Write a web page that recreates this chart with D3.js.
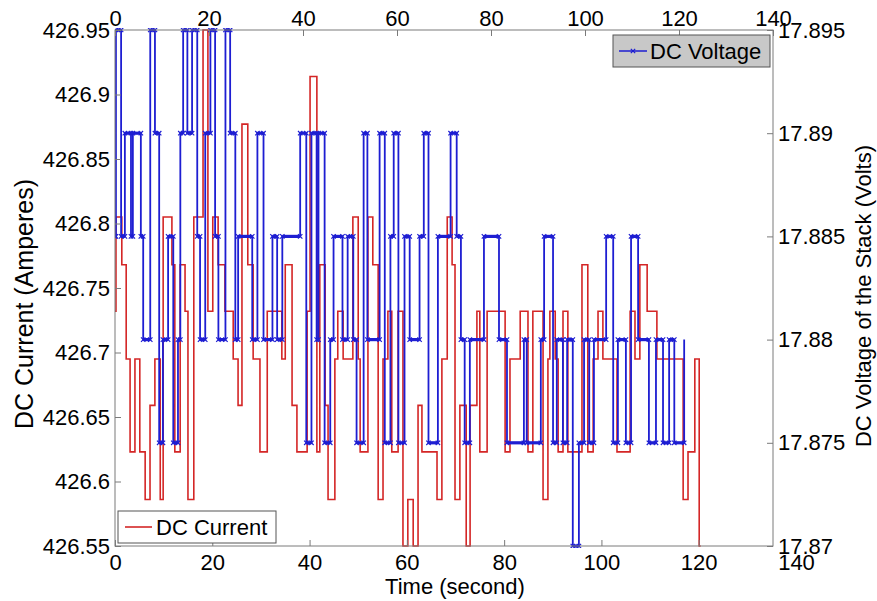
<!DOCTYPE html>
<html><head><meta charset="utf-8">
<script src="https://cdn.jsdelivr.net/npm/d3@7"></script>
<style>
body{margin:0;background:#fff;}
svg text{font-family:"Liberation Sans",Arial,sans-serif;}
</style></head>
<body><svg id="c" width="877" height="601"></svg>
<script>
// ---------- data ----------
const xTickValues = [0,20,40,60,80,100,120,140];
const xTickLabels = ["0","20","40","60","80","100","120","140"];
const currentTickValues = [426.55,426.6,426.65,426.7,426.75,426.8,426.85,426.9,426.95];
const currentTickLabels = ["426.55","426.6","426.65","426.7","426.75","426.8","426.85","426.9","426.95"];
const voltageTickValues = [17.87,17.875,17.88,17.885,17.89,17.895];
const voltageTickLabels = ["17.87","17.875","17.88","17.885","17.89","17.895"];

const currentTime = [0,0.2,1.4,2.3,3.1,4.1,5.1,6.2,7.2,8.2,9.3,9.9,11.7,12.3,13.4,14.4,15.0,16.2,18.1,19.1,20.1,21.2,22.6,24.3,25.3,26.1,27.3,28.4,29.8,31.3,34.3,35.0,36.4,37.4,39.5,40.1,41.5,42.1,43.2,43.8,45.2,45.8,46.9,48.9,50.0,50.4,52.0,53.0,54.1,55.1,56.1,56.9,58.2,59.2,60.2,61.3,62.3,63.1,66.2,67.2,68.3,69.3,69.9,70.9,72.2,73.0,74.4,75.0,76.5,80.2,81.2,83.3,84.9,85.9,88.0,89.0,89.4,90.5,91.1,92.1,93.1,96.0,97.2,98.3,99.3,100.3,103.2,105.9,106.9,107.9,109.4,111.4,116.8,117.8,119.2,120.1,120.4];
const currentValue = [426.732,426.805,426.768,426.695,426.623,426.695,426.623,426.586,426.659,426.695,426.586,426.805,426.768,426.623,426.768,426.732,426.586,426.805,426.95,426.732,426.805,426.768,426.732,426.695,426.659,426.877,426.768,426.695,426.623,426.732,426.695,426.768,426.659,426.623,426.732,426.914,426.623,426.768,426.659,426.586,426.695,426.732,426.695,426.805,426.695,426.623,426.805,426.768,426.586,426.695,426.732,426.623,426.732,426.55,426.586,426.55,426.659,426.623,426.586,426.695,426.805,426.768,426.586,426.659,426.55,426.659,426.732,426.623,426.732,426.623,426.695,426.732,426.623,426.732,426.586,426.695,426.732,426.695,426.623,426.732,426.623,426.768,426.623,426.695,426.732,426.695,426.623,426.732,426.695,426.768,426.732,426.695,426.586,426.623,426.695,426.55,426.55];

const voltageTime = [0,0.2,1.3,2.1,3.4,3.8,5.5,6.0,7.5,8.5,9.4,10.2,11.3,12.4,13.4,13.9,14.5,15.4,16.4,17.5,18.1,19.2,20.3,21.3,22.0,23.5,24.5,25.6,26.2,29.2,30.3,31.6,33.5,34.5,35.6,39.4,40.7,41.8,42.9,43.3,44.6,45.8,46.5,48.4,49.5,50.7,51.4,52.9,53.7,56.3,57.4,58.6,59.3,60.3,61.6,62.7,64.8,65.7,66.7,68.7,71.4,72.7,73.6,74.4,75.5,78.5,81.7,83.4,87.0,87.6,90.6,91.3,93.2,94.0,95.3,96.2,97.4,98.7,99.8,100.9,101.9,104.5,106.0,107.0,108.7,109.8,111.3,113.6,115.1,116.6,117.9,119.0,121.1];
const voltageValue = [17.885,17.895,17.885,17.89,17.885,17.89,17.885,17.88,17.895,17.89,17.875,17.88,17.885,17.875,17.88,17.89,17.895,17.89,17.895,17.885,17.88,17.89,17.895,17.885,17.88,17.895,17.89,17.88,17.885,17.88,17.89,17.88,17.885,17.88,17.885,17.89,17.875,17.89,17.88,17.89,17.875,17.88,17.885,17.88,17.885,17.88,17.875,17.89,17.88,17.89,17.875,17.885,17.89,17.875,17.885,17.88,17.885,17.89,17.875,17.885,17.89,17.885,17.88,17.875,17.88,17.885,17.88,17.875,17.88,17.875,17.88,17.885,17.875,17.88,17.875,17.88,17.87,17.875,17.88,17.875,17.88,17.885,17.875,17.88,17.875,17.885,17.88,17.875,17.88,17.875,17.88,17.875,17.88];

const seriesNames = ["DC Voltage","DC Current"];

// ---------- layout ----------
const L = 115, T = 30, B = 546, Rtop = 773, Rbottom = 796;
const svg = d3.select("#c");
const xBottom = d3.scaleLinear().domain([0,140]).range([L,Rbottom]);
const xTop = d3.scaleLinear().domain([0,140]).range([L,Rtop]);
const yLeft = d3.scaleLinear().domain([426.55,426.95]).range([B,T]);
const yRight = d3.scaleLinear().domain([17.87,17.895]).range([B,T]);

const axisColor = "#7a7a7a";
const fontSize = 22;

svg.append("defs").append("clipPath").attr("id","clip")
  .append("rect").attr("x",L).attr("y",T-2).attr("width",Rtop-L).attr("height",B-T+4);

// series
const red = "#d42626", blue = "#1e1ed2";
const curData = currentTime.map((t,i)=>[t,currentValue[i]]);
const volData = voltageTime.map((t,i)=>[t,voltageValue[i]]);

const g = svg.append("g").attr("clip-path","url(#clip)");
g.append("path").datum(curData)
  .attr("d", d3.line().x(d=>xBottom(d[0])).y(d=>yLeft(d[1])).curve(d3.curveStepAfter))
  .attr("fill","none").attr("stroke",red).attr("stroke-width",1.6);

g.append("path").datum(volData)
  .attr("d", d3.line().x(d=>xTop(d[0])).y(d=>yRight(d[1])).curve(d3.curveStepAfter))
  .attr("fill","none").attr("stroke",blue).attr("stroke-width",1.8);

// thicker plateaus
const plateaus = volData.slice(0,-1).map((d,i)=>({t0:d[0],t1:volData[i+1][0],v:d[1]}));
g.selectAll("line.pl").data(plateaus).enter().append("line")
  .attr("x1",d=>xTop(d.t0)).attr("x2",d=>xTop(d.t1))
  .attr("y1",d=>yRight(d.v)).attr("y2",d=>yRight(d.v))
  .attr("stroke",blue).attr("stroke-width",3.2);

// markers (x) at the plateau ends
const mk = [];
plateaus.forEach(p=>{mk.push([p.t0,p.v]);mk.push([p.t1,p.v]);});
const xm = 2.2;
g.selectAll("path.mk").data(mk).enter().append("path")
  .attr("d",d=>{const x=xTop(d[0]),y=yRight(d[1]);return `M${x-xm},${y-xm}L${x+xm},${y+xm}M${x-xm},${y+xm}L${x+xm},${y-xm}`;})
  .attr("stroke",blue).attr("stroke-width",1.2);

// ---------- axes ----------
function styleAxis(sel){
  sel.select(".domain").remove();
  sel.selectAll(".tick line").attr("stroke",axisColor);
  sel.selectAll(".tick text").attr("fill","#000").style("font-size",fontSize+"px")
    .style("font-family",'"Liberation Sans",Arial,sans-serif');
}
const axB = svg.append("g").attr("transform",`translate(0,${B})`)
  .call(d3.axisBottom(xBottom).tickValues(xTickValues).tickFormat((d,i)=>xTickLabels[i]).tickSize(-6).tickPadding(8));
styleAxis(axB);
axB.selectAll(".tick line").filter(d=>xBottom(d)>Rtop-1).remove();

const axT = svg.append("g").attr("transform",`translate(0,${T})`)
  .call(d3.axisTop(xTop).tickValues(xTickValues).tickFormat((d,i)=>xTickLabels[i]).tickSize(-6).tickPadding(4));
styleAxis(axT);

const axL = svg.append("g").attr("transform",`translate(${L},0)`)
  .call(d3.axisLeft(yLeft).tickValues(currentTickValues).tickFormat((d,i)=>currentTickLabels[i]).tickSize(-6).tickPadding(5));
styleAxis(axL);

const axR = svg.append("g").attr("transform",`translate(${Rtop},0)`)
  .call(d3.axisRight(yRight).tickValues(voltageTickValues).tickFormat((d,i)=>voltageTickLabels[i]).tickSize(-6).tickPadding(5));
styleAxis(axR);

// box
svg.append("rect").attr("x",L).attr("y",T).attr("width",Rtop-L).attr("height",B-T)
  .attr("fill","none").attr("stroke",axisColor).attr("stroke-width",1);

// axis titles
svg.append("text").attr("transform",`translate(455,594)`).attr("text-anchor","middle")
  .style("font-size",fontSize+"px").text("Time (second)");
svg.append("text").attr("transform",`translate(33,304) rotate(-90)`).attr("text-anchor","middle")
  .style("font-size","25px").text("DC Current (Amperes)");
svg.append("text").attr("transform",`translate(871,296) rotate(-90)`).attr("text-anchor","middle")
  .style("font-size",fontSize+"px").text("DC Voltage of the Stack (Volts)");

// legends
const lg1 = svg.append("g");
lg1.append("rect").attr("x",613).attr("y",35).attr("width",157).attr("height",32)
  .attr("fill","#c8c8c8").attr("stroke","#555").attr("stroke-width",1);
lg1.append("line").attr("x1",619).attr("x2",647).attr("y1",51).attr("y2",51).attr("stroke",blue).attr("stroke-width",1.5);
lg1.append("path").attr("d",`M${633-xm},${51-xm}L${633+xm},${51+xm}M${633-xm},${51+xm}L${633+xm},${51-xm}`)
  .attr("stroke",blue).attr("stroke-width",1.2);
lg1.append("text").attr("x",650).attr("y",59).style("font-size",fontSize+"px").text(seriesNames[0]);

const lg2 = svg.append("g");
lg2.append("rect").attr("x",118).attr("y",511).attr("width",158).attr("height",32)
  .attr("fill","#fff").attr("stroke","#555").attr("stroke-width",1);
lg2.append("line").attr("x1",125).attr("x2",152).attr("y1",527).attr("y2",527).attr("stroke",red).attr("stroke-width",1.6);
lg2.append("text").attr("x",156).attr("y",535).style("font-size",fontSize+"px").text(seriesNames[1]);
</script></body></html>
